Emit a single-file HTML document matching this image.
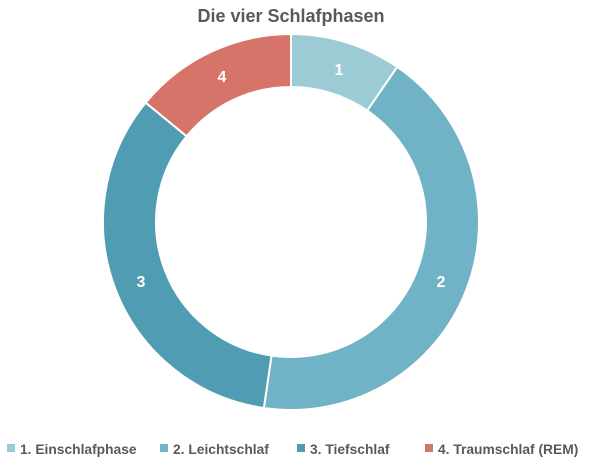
<!DOCTYPE html>
<html><head><meta charset="utf-8"><style>
body{margin:0;background:#fff;width:600px;height:462px;overflow:hidden;font-family:"Liberation Sans",sans-serif}
</style></head><body>
<svg width="600" height="462" xmlns="http://www.w3.org/2000/svg">
<text x="291" y="22" text-anchor="middle" font-family="Liberation Sans, sans-serif" font-weight="bold" font-size="18" fill="#595959">Die vier Schlafphasen</text>
<g id="d"></g>
<g font-family="Liberation Sans, sans-serif" font-weight="bold" font-size="16" fill="#fff" text-anchor="middle">
<text x="339" y="75">1</text><text x="441" y="287">2</text><text x="141" y="287">3</text><text x="222" y="82">4</text>
</g>
<g font-family="Liberation Sans, sans-serif" font-weight="bold" font-size="13.8" fill="#595959">
<rect x="7" y="444" width="8" height="8" fill="#9ccbd6"/><text x="20" y="454">1. Einschlafphase</text>
<rect x="160" y="444" width="8" height="8" fill="#70b3c6"/><text x="173" y="454">2. Leichtschlaf</text>
<rect x="297" y="444" width="8" height="8" fill="#4f9cb3"/><text x="310" y="454">3. Tiefschlaf</text>
<rect x="425" y="444" width="8" height="8" fill="#d6746a"/><text x="438" y="454">4. Traumschlaf (REM)</text>
</g>
</svg>
<script>
var cx=291,cy=222,R=188,r=135;
var a=[0,34.4,188.3,309.4,360],c=["#9ccbd6","#70b3c6","#4f9cb3","#d6746a"];
function p(rad,deg){var t=deg*Math.PI/180;return [cx+rad*Math.sin(t),cy-rad*Math.cos(t)];}
var g=document.getElementById("d"),h="";
for(var i=0;i<4;i++){var s=a[i],e=a[i+1],l=(e-s)>180?1:0;
var A=p(R,s),B=p(R,e),C=p(r,e),D=p(r,s);
h+='<path d="M'+A+' A'+R+','+R+' 0 '+l+' 1 '+B+' L'+C+' A'+r+','+r+' 0 '+l+' 0 '+D+' Z" fill="'+c[i]+'" stroke="#fff" stroke-width="2"/>';}
g.innerHTML=h;
</script>
</body></html>
